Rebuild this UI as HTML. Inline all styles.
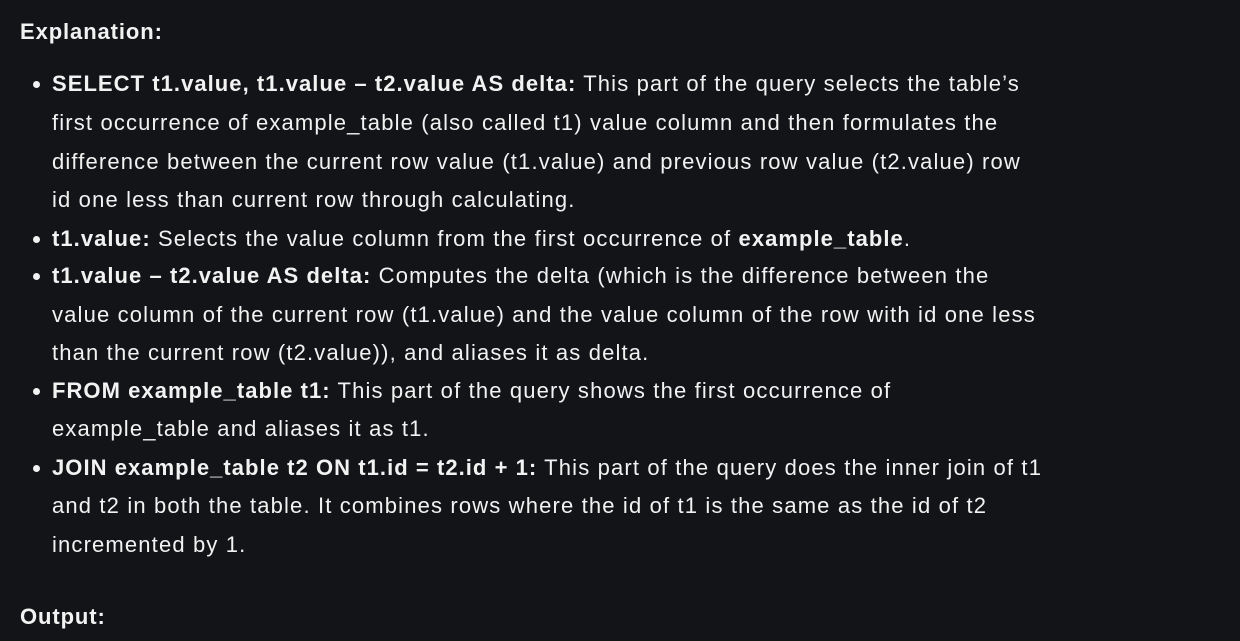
<!DOCTYPE html>
<html><head><meta charset="utf-8"><style>
html,body{margin:0;padding:0;background:#131417;}
body{width:1240px;height:641px;overflow:hidden;color:#f2f2f2;font-family:"Liberation Sans",sans-serif;font-size:22px;letter-spacing:1.15px;}
.l{position:absolute;left:52px;white-space:nowrap;line-height:24px;height:24px;}
.h{left:20px;font-weight:bold;letter-spacing:0.9px;}
.b::before{content:"";position:absolute;left:-19px;top:9px;width:7px;height:7px;border-radius:50%;background:#f2f2f2;}
b{font-weight:bold;letter-spacing:1.05px;}
</style></head><body>
<div class="l h" style="top:20px">Explanation:</div>
<div class="l b" style="top:72px"><b>SELECT t1.value, t1.value – t2.value AS delta:</b> This part of the query selects the table’s</div>
<div class="l" style="top:111px">first occurrence of example_table (also called t1) value column and then formulates the</div>
<div class="l" style="top:150px">difference between the current row value (t1.value) and previous row value (t2.value) row</div>
<div class="l" style="top:188px">id one less than current row through calculating.</div>
<div class="l b" style="top:227px"><b>t1.value:</b> Selects the value column from the first occurrence of <b>example_table</b>.</div>
<div class="l b" style="top:264px"><b>t1.value – t2.value AS delta:</b> Computes the delta (which is the difference between the</div>
<div class="l" style="top:303px">value column of the current row (t1.value) and the value column of the row with id one less</div>
<div class="l" style="top:341px">than the current row (t2.value)), and aliases it as delta.</div>
<div class="l b" style="top:379px"><b>FROM example_table t1:</b> This part of the query shows the first occurrence of</div>
<div class="l" style="top:417px">example_table and aliases it as t1.</div>
<div class="l b" style="top:456px"><b>JOIN example_table t2 ON t1.id = t2.id + 1:</b> This part of the query does the inner join of t1</div>
<div class="l" style="top:494px">and t2 in both the table. It combines rows where the id of t1 is the same as the id of t2</div>
<div class="l" style="top:533px">incremented by 1.</div>
<div class="l h" style="top:605px">Output:</div>
</body></html>
